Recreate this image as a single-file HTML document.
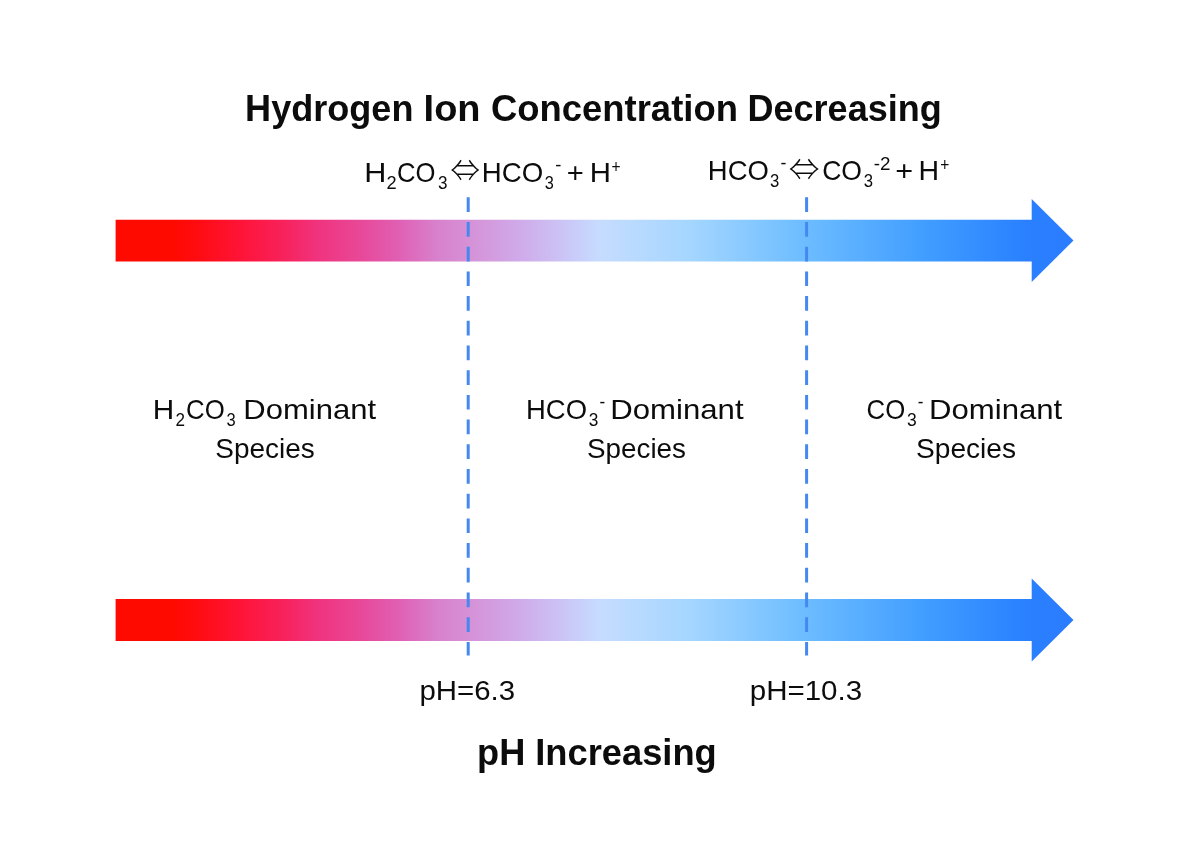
<!DOCTYPE html>
<html lang="en">
<head>
<meta charset="utf-8">
<title>Carbonate species vs pH</title>
<style>
  html, body { margin: 0; padding: 0; background: #ffffff; }
  body { width: 1200px; height: 851px; overflow: hidden; }
  svg { display: block; }
  text { font-family: "Liberation Sans", "DejaVu Sans", sans-serif; fill: #0c0c0c; }
  .b { font-weight: bold; font-size: 36.5px; }
  .r { font-size: 28px; }
  .s { font-size: 19px; }
  .sym { font-family: "Noto Serif CJK SC", "DejaVu Sans", sans-serif; font-size: 27.5px; font-weight: 600; }
</style>
</head>
<body>
<svg width="1200" height="851" viewBox="0 0 1200 851">
  <defs>
    <linearGradient id="g" gradientUnits="userSpaceOnUse" x1="116" y1="0" x2="1074" y2="0">
      <stop offset="0" stop-color="#ff0a00"/>
      <stop offset="0.06" stop-color="#ff0a00"/>
      <stop offset="0.088" stop-color="#ff0c14"/>
      <stop offset="0.13" stop-color="#ff1438"/>
      <stop offset="0.171" stop-color="#f82058"/>
      <stop offset="0.213" stop-color="#f03480"/>
      <stop offset="0.255" stop-color="#e84898"/>
      <stop offset="0.296" stop-color="#e060b4"/>
      <stop offset="0.334" stop-color="#d880cc"/>
      <stop offset="0.367" stop-color="#d690d6"/>
      <stop offset="0.417" stop-color="#d0a8e8"/>
      <stop offset="0.46" stop-color="#ccc0f4"/>
      <stop offset="0.505" stop-color="#c6dcff"/>
      <stop offset="0.60" stop-color="#a4d6ff"/>
      <stop offset="0.72" stop-color="#6cbcff"/>
      <stop offset="0.85" stop-color="#3f9cff"/>
      <stop offset="0.95" stop-color="#2a80ff"/>
      <stop offset="1" stop-color="#2a7cff"/>
    </linearGradient>
  </defs>

  <!-- arrows -->
  <path id="a1" fill="url(#g)" d="M115.6 219.7 H1031.7 V199 L1073.5 240.5 L1031.7 282 V261.6 H115.6 Z"/>
  <path id="a2" fill="url(#g)" d="M115.6 599 H1031.7 V578.5 L1073.5 620 L1031.7 661.5 V641.1 H115.6 Z"/>

  <!-- dashed guides -->
  <line x1="468.2" y1="197.3" x2="468.2" y2="655.5" stroke="#4588f0" stroke-width="3" stroke-dasharray="14.7 10"/>
  <line x1="806.6" y1="197.3" x2="806.6" y2="655.5" stroke="#4588f0" stroke-width="3" stroke-dasharray="14.7 10"/>

  <!-- text -->
  <text class="b" x="245.12" y="120.50" textLength="168.36" lengthAdjust="spacingAndGlyphs">Hydrogen</text>
  <text class="b" x="423.62" y="120.50" textLength="56.93" lengthAdjust="spacingAndGlyphs">Ion</text>
  <text class="b" x="491.00" y="120.50" textLength="246.89" lengthAdjust="spacingAndGlyphs">Concentration</text>
  <text class="b" x="747.53" y="120.50" textLength="194.24" lengthAdjust="spacingAndGlyphs">Decreasing</text>
  <text class="r" x="364.21" y="181.60" textLength="22.12" lengthAdjust="spacingAndGlyphs">H</text>
  <text class="s" x="386.60" y="188.60" textLength="10.14" lengthAdjust="spacingAndGlyphs">2</text>
  <text class="r" x="396.99" y="181.60" textLength="38.43" lengthAdjust="spacingAndGlyphs">CO</text>
  <text class="s" x="437.90" y="188.60" textLength="9.51" lengthAdjust="spacingAndGlyphs">3</text>
  <text class="sym" x="450.50" y="181.13" style="font-size:31.01px" textLength="29.33" lengthAdjust="spacingAndGlyphs">⇔</text>
  <text class="r" x="481.82" y="181.60" textLength="61.44" lengthAdjust="spacingAndGlyphs">HCO</text>
  <text class="s" x="544.70" y="188.60" textLength="9.09" lengthAdjust="spacingAndGlyphs">3</text>
  <text class="s" x="555.20" y="171.10" textLength="6.12" lengthAdjust="spacingAndGlyphs">-</text>
  <text class="r" x="566.66" y="181.80" textLength="17.05" lengthAdjust="spacingAndGlyphs">+</text>
  <text class="r" x="589.80" y="181.60" textLength="21.23" lengthAdjust="spacingAndGlyphs">H</text>
  <text class="s" x="611.40" y="172.60" textLength="9.08" lengthAdjust="spacingAndGlyphs">+</text>
  <text class="r" x="707.84" y="180.40" textLength="61.03" lengthAdjust="spacingAndGlyphs">HCO</text>
  <text class="s" x="770.00" y="187.00" textLength="9.30" lengthAdjust="spacingAndGlyphs">3</text>
  <text class="s" x="780.60" y="169.10" textLength="5.91" lengthAdjust="spacingAndGlyphs">-</text>
  <text class="sym" x="789.00" y="179.73" style="font-size:31.17px" textLength="30.35" lengthAdjust="spacingAndGlyphs">⇔</text>
  <text class="r" x="822.15" y="180.40" textLength="39.79" lengthAdjust="spacingAndGlyphs">CO</text>
  <text class="s" x="863.70" y="187.00" textLength="9.30" lengthAdjust="spacingAndGlyphs">3</text>
  <text class="s" x="873.80" y="169.80" textLength="16.76" lengthAdjust="spacingAndGlyphs">-2</text>
  <text class="r" x="895.31" y="180.00" textLength="17.87" lengthAdjust="spacingAndGlyphs">+</text>
  <text class="r" x="918.56" y="180.40" textLength="20.60" lengthAdjust="spacingAndGlyphs">H</text>
  <text class="s" x="940.20" y="170.80" textLength="9.08" lengthAdjust="spacingAndGlyphs">+</text>
  <text class="r" x="152.88" y="419.20" textLength="21.48" lengthAdjust="spacingAndGlyphs">H</text>
  <text class="s" x="175.50" y="426.40" textLength="9.51" lengthAdjust="spacingAndGlyphs">2</text>
  <text class="r" x="186.08" y="419.20" textLength="38.64" lengthAdjust="spacingAndGlyphs">CO</text>
  <text class="s" x="226.50" y="426.40" textLength="9.19" lengthAdjust="spacingAndGlyphs">3</text>
  <text class="r" x="243.39" y="419.20" textLength="132.67" lengthAdjust="spacingAndGlyphs">Dominant</text>
  <text class="r" x="215.30" y="458.00" textLength="99.50" lengthAdjust="spacingAndGlyphs">Species</text>
  <text class="r" x="526.04" y="419.20" textLength="61.03" lengthAdjust="spacingAndGlyphs">HCO</text>
  <text class="s" x="588.70" y="426.40" textLength="9.62" lengthAdjust="spacingAndGlyphs">3</text>
  <text class="s" x="599.40" y="407.80" textLength="5.69" lengthAdjust="spacingAndGlyphs">-</text>
  <text class="r" x="610.28" y="419.20" textLength="133.28" lengthAdjust="spacingAndGlyphs">Dominant</text>
  <text class="r" x="587.01" y="458.00" textLength="98.99" lengthAdjust="spacingAndGlyphs">Species</text>
  <text class="r" x="866.58" y="419.20" textLength="38.64" lengthAdjust="spacingAndGlyphs">CO</text>
  <text class="s" x="907.00" y="426.40" textLength="9.72" lengthAdjust="spacingAndGlyphs">3</text>
  <text class="s" x="917.80" y="407.80" textLength="5.69" lengthAdjust="spacingAndGlyphs">-</text>
  <text class="r" x="928.98" y="419.20" textLength="133.28" lengthAdjust="spacingAndGlyphs">Dominant</text>
  <text class="r" x="916.00" y="458.00" textLength="100.01" lengthAdjust="spacingAndGlyphs">Species</text>
  <text class="r" x="419.45" y="700.30" textLength="95.65" lengthAdjust="spacingAndGlyphs">pH=6.3</text>
  <text class="r" x="749.75" y="700.30" textLength="112.36" lengthAdjust="spacingAndGlyphs">pH=10.3</text>
  <text class="b" x="477.12" y="765.00" textLength="48.22" lengthAdjust="spacingAndGlyphs">pH</text>
  <text class="b" x="535.21" y="765.00" textLength="181.57" lengthAdjust="spacingAndGlyphs">Increasing</text>
</svg>
</body>
</html>
